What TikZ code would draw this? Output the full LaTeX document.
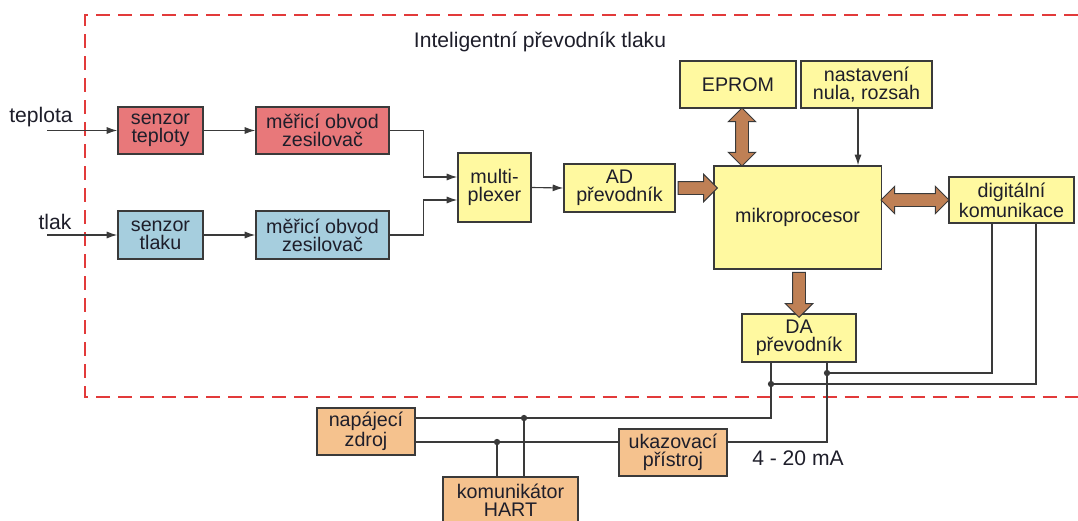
\documentclass[tikz,border=0pt]{standalone}
\usepackage{fontspec}
\setmainfont{Liberation Sans}
\usetikzlibrary{arrows.meta,shapes.arrows,calc}

\definecolor{boxred}{HTML}{E8787A}
\definecolor{boxblue}{HTML}{A6CEDE}
\definecolor{boxyellow}{HTML}{FFF9A0}
\definecolor{boxorange}{HTML}{F5C28E}
\definecolor{arrowbrown}{HTML}{BF8055}
\definecolor{boxline}{HTML}{3A3A3A}
\definecolor{textc}{HTML}{1E1E2A}
\definecolor{framered}{HTML}{E23A3A}

\begin{document}
\begin{tikzpicture}[x=0.025cm, y=-0.025cm, font=\fontsize{14}{12.8}\selectfont]
    % Define styles
    \tikzset{
        block/.style={draw=boxline, line width=0.9pt, align=center, inner sep=1pt, text=textc},
        redblock/.style={block, fill=boxred},
        blueblock/.style={block, fill=boxblue},
        yellowblock/.style={block, fill=boxyellow},
        orangeblock/.style={block, fill=boxorange},
        wire/.style={draw=boxline, line width=0.8pt},
        sig/.style={wire, -{Latex[length=7.5pt, width=5pt]}},
        fat/.style={single arrow, draw=boxline, fill=arrowbrown, line width=0.7pt,
            single arrow head extend=0.18cm, inner sep=0.15cm, outer sep=0pt},
        fatboth/.style={double arrow, draw=boxline, fill=arrowbrown, line width=0.7pt,
            double arrow head extend=0.18cm, inner sep=0.15cm, outer sep=0pt},
        dot/.style={circle, fill=boxline, inner sep=0pt, minimum size=4.5pt},
        label/.style={text=textc, font=\fontsize{15}{15}\selectfont},
        frame/.style={framered, line width=1.5pt, dash pattern=on 0.35cm off 0.2cm}
    }
    \clip (0,0) rectangle (1078,520);

    % Dashed border of the transmitter
    \draw[frame] (1078,15) -- (85,15) -- (85,397) -- (1078,397);
    \node[label] (title) at (540,42) {Inteligentní převodník tlaku};

    % Measuring chains
    \node[redblock, minimum width=2.13cm, minimum height=1.18cm] (st) at (160.5,130.5) {senzor\\teploty};
    \node[redblock, minimum width=3.33cm, minimum height=1.18cm] (mt) at (322.5,130.5) {měřicí obvod\\zesilovač};
    \node[blueblock, minimum width=2.13cm, minimum height=1.2cm] (sp) at (160.5,235) {senzor\\tlaku};
    \node[blueblock, minimum width=3.33cm, minimum height=1.2cm] (mp) at (322.5,235) {měřicí obvod\\zesilovač};
    \node[label] (lbltemp) at (41,117) {teplota};
    \node[label] (lblpress) at (55,222) {tlak};
    \coordinate (tin) at (47,130.5);
    \coordinate (pin) at (47,235);

    % Digital part
    \node[yellowblock, minimum width=1.83cm, minimum height=1.73cm] (mux) at (494.5,187.5) {multi-\\plexer};
    \node[yellowblock, minimum width=2.78cm, minimum height=1.2cm] (ad) at (619.5,188) {AD\\převodník};
    \node[yellowblock, minimum width=2.9cm, minimum height=1.18cm] (eprom) at (738,84.5) {EPROM};
    \node[yellowblock, minimum width=3.28cm, minimum height=1.18cm] (nast) at (866.5,84.5) {nastavení\\nula, rozsah};
    \node[yellowblock, minimum width=4.18cm, minimum height=2.58cm] (mcu) at (797.5,217.5) {mikroprocesor};
    \node[yellowblock, minimum width=3.13cm, minimum height=1.15cm] (dig) at (1011.5,200) {digitální\\komunikace};
    \node[yellowblock, minimum width=2.85cm, minimum height=1.2cm] (da) at (799,338) {DA\\převodník};

    % Outside the transmitter
    \node[orangeblock, minimum width=2.45cm, minimum height=1.18cm] (psu) at (366,431.5) {napájecí\\zdroj};
    \node[orangeblock, minimum width=2.7cm, minimum height=1.18cm] (ind) at (673,452.5) {ukazovací\\přístroj};
    \node[orangeblock, minimum width=3.38cm, minimum height=1.18cm] (hart) at (510.5,500.5) {komunikátor\\HART};
    \node[label] (ma) at (798,458) {4 - 20 mA};

    % Signal arrows
    \draw[sig] (tin) -- (st.west);
    \draw[sig] (st) -- (mt);
    \draw[sig] (pin) -- (sp.west);
    \draw[sig] (sp) -- (mp);
    \draw[sig] (mt.east) -- ++(34,0) |- ($(mux.west)+(0,-10.5)$);
    \draw[sig] (mp.east) -- ++(34,0) |- ($(mux.west)+(0,12.5)$);
    \draw[sig] (mux.east) -- (ad.west);
    \coordinate (n1) at ($(nast.south)+(-8.5,0)$);
    \draw[sig] (n1) -- (n1 |- mcu.north);

    % Data buses
    \node[fat, minimum height=0.98cm] (busad) at ($(ad.east)!.5!(ad.east -| mcu.west)$) {};
    \coordinate (e1) at ($(eprom.south)+(4,0)$);
    \node[fatboth, minimum height=1.45cm, shape border rotate=90] (busmem) at ($(e1)!.5!(e1 |- mcu.north)$) {};
    \node[fatboth, minimum height=1.7cm] (buscom) at ($(dig.west -| mcu.east)!.5!(dig.west)$) {};
    \node[fat, minimum height=1.125cm, shape border rotate=270] (busda) at ($(da.north |- mcu.south)!.5!(da.north)$) {};

    % Current loop
    \node[dot] (j1) at (771,384) {};
    \node[dot] (j2) at (827,373) {};
    \node[dot] (h2) at (524,418) {};
    \node[dot] (h1) at (497,442) {};
    \coordinate (d1) at ($(dig.south)+(24.5,0)$);
    \coordinate (d2) at ($(dig.south)+(-19.5,0)$);
    \draw[wire] (da.south -| j1) -- (j1) -- (j1 |- h2) -- (psu.east |- h2);
    \draw[wire] (da.south -| j2) -- (j2) -- (j2 |- h1) -- (ind.east |- h1);
    \draw[wire] (j1) -| (d1);
    \draw[wire] (j2) -| (d2);
    \draw[wire] (psu.east |- h1) -- (ind.west |- h1);
    \draw[wire] (h1) -- (h1 |- hart.north);
    \draw[wire] (h2) -- (h2 |- hart.north);
\end{tikzpicture}
\end{document}
